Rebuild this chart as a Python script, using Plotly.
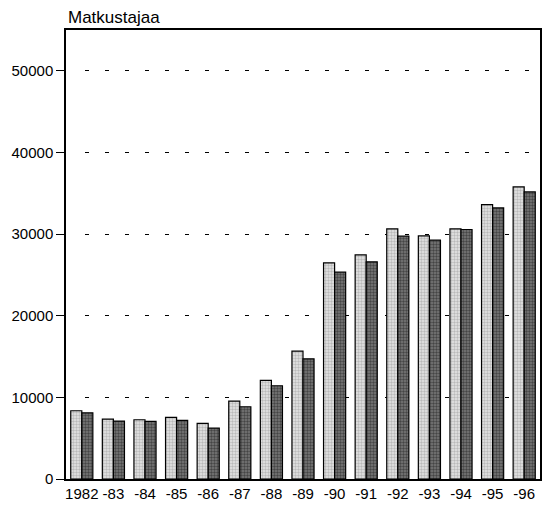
import plotly.graph_objects as go

categories = ["1982", "-83", "-84", "-85", "-86", "-87", "-88", "-89",
              "-90", "-91", "-92", "-93", "-94", "-95", "-96"]
series_light = [8360, 7340, 7260, 7550, 6820, 9550, 12080, 15670,
                26480, 27460, 30640, 29780, 30640, 33620, 35780]
series_dark = [8110, 7100, 7060, 7180, 6240, 8850, 11420, 14720,
               25340, 26600, 29740, 29250, 30560, 33210, 35170]
y_ticks = [0, 10000, 20000, 30000, 40000, 50000]
y_tick_labels = ["0", "10000", "20000", "30000", "40000", "50000"]
y_title = "Matkustajaa"

FONT = "Liberation Sans, Arial, sans-serif"
GRID_DASH = "0px,19px," + ",".join(["4px,16px"] * 25)

fig = go.Figure()
fig.add_trace(go.Bar(
    x=categories, y=series_light, name="A",
    marker=dict(
        color="#d8d8d8",
        line=dict(color="black", width=1.2),
        pattern=dict(shape=".", bgcolor="#e6e6e6", fgcolor="#8c8c8c",
                     size=3, solidity=0.5, fillmode="overlay"),
    ),
))
fig.add_trace(go.Bar(
    x=categories, y=series_dark, name="B",
    marker=dict(
        color="#606060",
        line=dict(color="black", width=1.2),
        pattern=dict(shape=".", bgcolor="#7a7a7a", fgcolor="#101010",
                     size=3, solidity=0.5, fillmode="overlay"),
    ),
))

fig.update_layout(
    width=546, height=507,
    margin=dict(l=66, r=4, t=30, b=28),
    paper_bgcolor="white", plot_bgcolor="white",
    barmode="group", bargap=0.3, bargroupgap=0,
    showlegend=False,
    font=dict(family=FONT, size=15, color="black"),
    xaxis=dict(
        type="category", range=[-0.5, 14.5],
        showline=True, linecolor="black", linewidth=1.5, mirror=True,
        ticks="", showgrid=False, tickfont=dict(size=15, color="black"),
    ),
    yaxis=dict(
        range=[0, 55000], tickvals=y_ticks, ticktext=y_tick_labels,
        showline=True, linecolor="black", linewidth=1.5, mirror=True,
        ticks="outside", ticklen=8, tickcolor="black", tickwidth=1,
        showgrid=True, gridcolor="black", gridwidth=1.3,
        griddash=GRID_DASH,
        zeroline=False, tickfont=dict(size=15, color="black"),
    ),
    annotations=[dict(
        text=y_title, xref="paper", yref="paper", x=0, y=1,
        xanchor="left", yanchor="bottom", yshift=1, showarrow=False,
        font=dict(size=17, family=FONT, color="black"),
    )],
)

fig.write_html(
    "out.html",
    config={"displayModeBar": False},
    post_script="document.body.style.margin='0';document.body.style.overflow='hidden';",
)
